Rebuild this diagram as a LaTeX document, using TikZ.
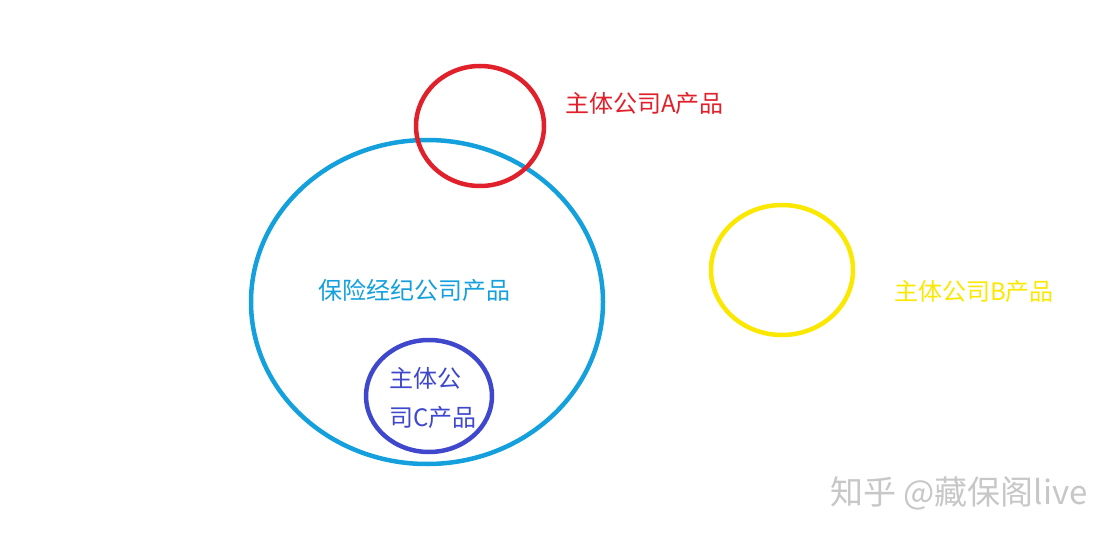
\documentclass[tikz,border=0pt]{standalone}
\usepackage{fontspec}
\setmainfont{Noto Sans CJK SC}
\definecolor{brokerblue}{RGB}{20,160,220}
\definecolor{compred}{RGB}{224,32,42}
\definecolor{compyellow}{RGB}{250,232,0}
\definecolor{compindigo}{RGB}{63,72,204}
\begin{document}
\begin{tikzpicture}[x=1pt,y=-1pt]
            \useasboundingbox (0,0) rectangle (1119,540);
            \coordinate (broker) at (427,302);
            \coordinate (A) at (480,126);
            \coordinate (B) at (782,270);
            \coordinate (C) at (429,396);

            \draw [brokerblue, line width=4.5pt] (broker) ellipse [x radius=176pt, y radius=162pt];
            \draw [compred, line width=4.5pt] (A) ellipse [x radius=64pt, y radius=60pt];
            \draw [compyellow, line width=4.5pt] (B) ellipse [x radius=71pt, y radius=65pt];
            \draw [compindigo, line width=4.5pt] (C) ellipse [x radius=63pt, y radius=56pt];

            \path (565,103) node[anchor=west, inner sep=0, text=compred, font=\fontsize{24}{28}\selectfont](labA){主体公司A产品};
            \path (318,290) node[anchor=west, inner sep=0, text=brokerblue, font=\fontsize{24}{28}\selectfont](labbroker){保险经纪公司产品};
            \path (894,291) node[anchor=west, inner sep=0, text=compyellow, font=\fontsize{24}{28}\selectfont](labB){主体公司B产品};
            \path (389,378) node[anchor=west, inner sep=0, text=compindigo, font=\fontsize{24}{28}\selectfont](labC1){主体公};
            \path (389,417) node[anchor=west, inner sep=0, text=compindigo, font=\fontsize{24}{28}\selectfont](labC2){司C产品};
            \path (830,493) node[anchor=west, inner sep=0, text=black!22, font=\fontsize{33}{38}\selectfont](mark){知乎 @藏保阁live};
\end{tikzpicture}
\end{document}
